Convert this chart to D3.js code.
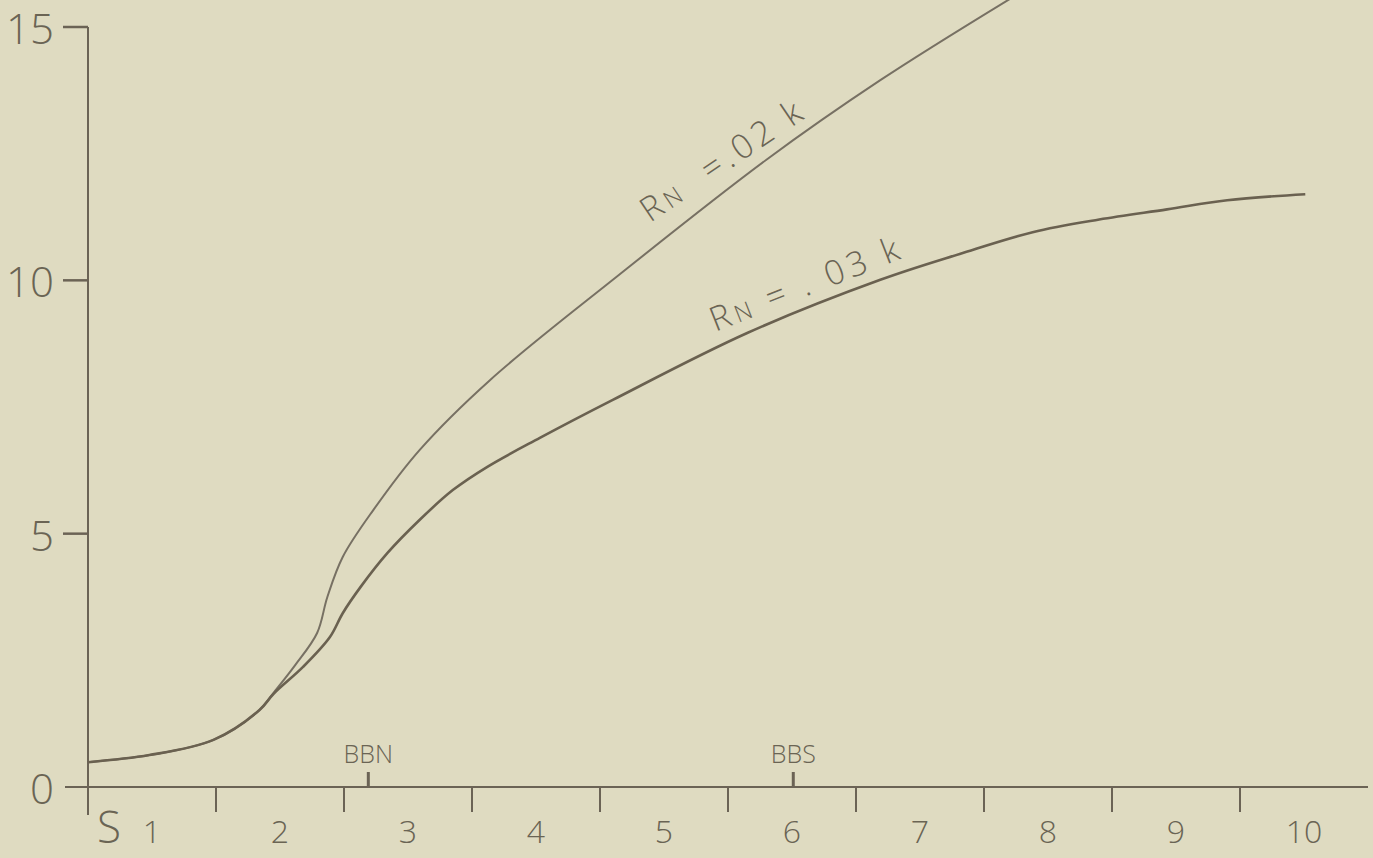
<!DOCTYPE html>
<html lang="en">
<head>
  <meta charset="UTF-8">
  <title>RN curves</title>
  <script src="https://d3js.org/d3.v7.min.js"></script>
  <style>
    body { margin: 0; background: #dfdbc1; }
    svg { display: block; }
    text { font-family: "Open Sans", "DejaVu Sans", sans-serif; font-weight: 300; fill: #6a6454; white-space: pre; }
  </style>
</head>
<body>
<svg id="chart" width="1373" height="858"></svg>

<script>
  // sections along the x axis (labels sit in the middle of each section)
  const sections = ["1", "2", "3", "4", "5", "6", "7", "8", "9", "10"];
  const yTicks = [0, 5, 10, 15];

  // RN = .02 k  (x in sections, y in axis units)
  const upperX = [0, 0.48, 0.98, 1.34, 1.45, 1.62, 1.79, 1.87, 1.99, 2.23, 2.59, 3.14, 4.13, 5.3, 6.19, 7.2];
  const upperY = [0.49, 0.63, 0.93, 1.52, 1.86, 2.41, 3.04, 3.75, 4.54, 5.47, 6.65, 8.03, 10.07, 12.38, 13.95, 15.55];

  // RN = .03 k
  const lowerX = [0, 0.48, 0.98, 1.34, 1.45, 1.68, 1.89, 1.99, 2.13, 2.34, 2.59, 2.85, 3.12, 3.53, 4.1, 5.15, 6.19, 6.81, 7.38, 7.9, 8.43, 8.9, 9.51];
  const lowerY = [0.49, 0.63, 0.93, 1.52, 1.84, 2.37, 2.96, 3.43, 3.95, 4.62, 5.27, 5.86, 6.32, 6.89, 7.64, 8.96, 10.01, 10.52, 10.95, 11.2, 11.4, 11.58, 11.7];

  // markers above the x axis
  const markerNames = ["BBN", "BBS"];
  const markerX = [2.19, 5.51];

  const svg = d3.select("#chart");
  const ink = "#6b6355";

  const x = d3.scaleLinear().domain([0, 10]).range([88, 1368]);
  const y = d3.scaleLinear().domain([0, 15]).range([787, 27]);

  // x axis: long line, ticks hang down at section boundaries
  svg.append("line")
    .attr("x1", 65).attr("x2", x(10))
    .attr("y1", y(0)).attr("y2", y(0))
    .attr("stroke", ink).attr("stroke-width", 2);

  svg.append("g").selectAll("line")
    .data(d3.range(1, 10))
    .enter().append("line")
    .attr("x1", d => x(d)).attr("x2", d => x(d))
    .attr("y1", y(0)).attr("y2", y(0) + 25)
    .attr("stroke", ink).attr("stroke-width", 2);

  svg.append("g").selectAll("text")
    .data(sections)
    .enter().append("text")
    .attr("x", (d, i) => x(i + 0.5))
    .attr("y", 843)
    .attr("text-anchor", "middle")
    .attr("font-size", 32)
    .text(d => d);

  svg.append("text")
    .attr("x", x(0) + 9)
    .attr("y", 843)
    .attr("font-size", 44)
    .text("S");

  // y axis, runs a bit below the x axis
  svg.append("line")
    .attr("x1", x(0)).attr("x2", x(0))
    .attr("y1", y(15)).attr("y2", y(0) + 28)
    .attr("stroke", ink).attr("stroke-width", 2);

  svg.append("g").selectAll("line")
    .data(yTicks.filter(d => d > 0))
    .enter().append("line")
    .attr("x1", 63).attr("x2", x(0))
    .attr("y1", d => y(d)).attr("y2", d => y(d))
    .attr("stroke", ink).attr("stroke-width", 2.5);

  svg.append("g").selectAll("text")
    .data(yTicks)
    .enter().append("text")
    .attr("x", 54)
    .attr("y", d => y(d) + 17)
    .attr("text-anchor", "end")
    .attr("font-size", 42)
    .text(d => d);

  // BBN / BBS markers
  svg.append("g").selectAll("line")
    .data(markerX)
    .enter().append("line")
    .attr("x1", d => x(d)).attr("x2", d => x(d))
    .attr("y1", y(0) - 15).attr("y2", y(0))
    .attr("stroke", ink).attr("stroke-width", 3);

  svg.append("g").selectAll("text")
    .data(markerNames)
    .enter().append("text")
    .attr("x", (d, i) => x(markerX[i]))
    .attr("y", 763)
    .attr("text-anchor", "middle")
    .attr("font-size", 25)
    .text(d => d);

  // the two curves
  const line = d3.line()
    .x(d => x(d[0]))
    .y(d => y(d[1]))
    .curve(d3.curveCatmullRom.alpha(0.5));

  svg.append("path")
    .datum(d3.zip(upperX, upperY))
    .attr("d", line)
    .attr("fill", "none")
    .attr("stroke", "#777063")
    .attr("stroke-width", 2);

  svg.append("path")
    .datum(d3.zip(lowerX, lowerY))
    .attr("d", line)
    .attr("fill", "none")
    .attr("stroke", "#6a6150")
    .attr("stroke-width", 2.6);

  // curve labels, written along the lines
  const curveLabels = [
    {rest: "  =.02 k", at: [4.39, 11.13], angle: -34},
    {rest: " = . 03 k", at: [4.9, 8.98], angle: -21.5}
  ];

  curveLabels.forEach(l => {
    const t = svg.append("text")
      .attr("transform", `translate(${x(l.at[0])},${y(l.at[1])}) rotate(${l.angle})`)
      .attr("font-size", 34)
      .attr("font-weight", 400)
      .attr("letter-spacing", 4.5);
    t.append("tspan").text("R");
    t.append("tspan").attr("font-size", 24).text("N");
    t.append("tspan").text(l.rest);
  });
</script>
</body>
</html>
